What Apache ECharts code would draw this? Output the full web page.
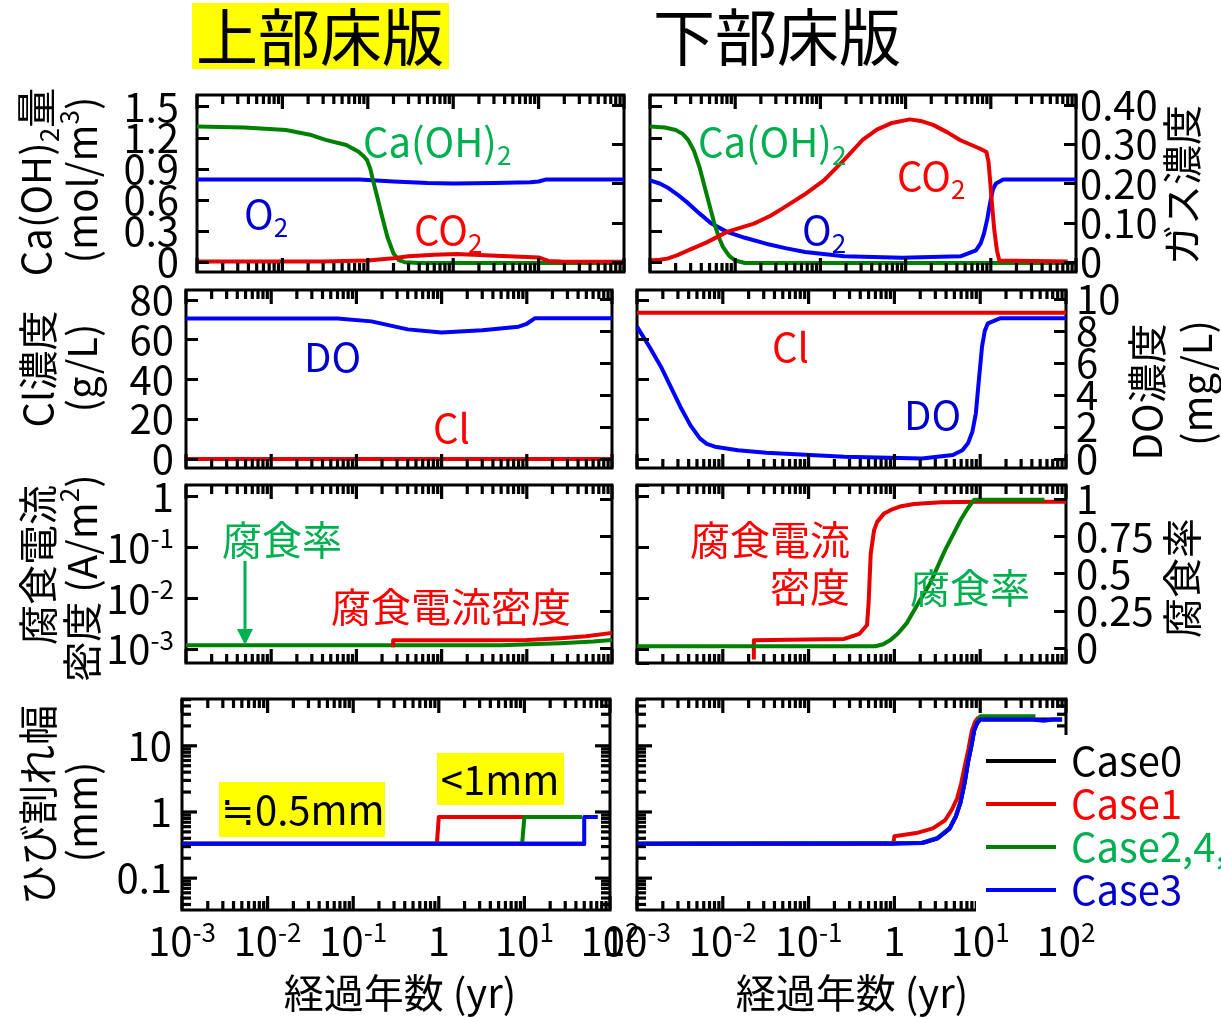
<!DOCTYPE html>
<html lang="ja">
<head>
<meta charset="utf-8">
<title>上部床版・下部床版の経時変化</title>
<script src="https://cdn.jsdelivr.net/npm/echarts@6.0.0/dist/echarts.min.js"></script>
<style>
html, body { margin: 0; padding: 0; background: #fff; }
#chart { width: 1221px; height: 1017px; }
</style>
</head>
<body>
<div id="chart"></div>
<script>
// ===== Data: [elapsed years, value] =====
// Row 1: Ca(OH)2 amount (mol/m3) and gas concentrations
const upperCaOH2 = [[0.001,1.31],[0.0036,1.30],[0.011,1.275],[0.021,1.23],[0.032,1.18],[0.056,1.13],[0.078,1.065],[0.09,1.02],[0.098,0.985],[0.107,0.9],[0.115,0.79],[0.13,0.62],[0.144,0.47],[0.17,0.24],[0.2,0.084],[0.23,0.02],[0.27,0.0],[0.4,-0.008],[10,-0.008],[100,-0.008]];
const upperO2 = [[0.001,0.21],[0.08,0.21],[0.2,0.205],[0.5,0.201],[1,0.2],[3,0.201],[8,0.203],[10,0.205],[12,0.21],[100,0.21]];
const upperCO2 = [[0.001,0.002],[0.03,0.002],[0.1,0.004],[0.2,0.01],[0.3,0.015],[0.6,0.019],[1.1,0.021],[2.7,0.017],[10,0.012],[13,0.003],[20,0.001],[100,0.001]];
const lowerCaOH2 = [[0.001,1.31],[0.0015,1.30],[0.002,1.275],[0.0024,1.24],[0.0028,1.18],[0.0033,1.07],[0.0038,0.92],[0.0047,0.63],[0.0057,0.37],[0.0065,0.23],[0.0072,0.145],[0.0085,0.06],[0.01,0.016],[0.013,-0.008],[100,-0.008]];
const lowerO2 = [[0.001,0.208],[0.0013,0.2],[0.0016,0.19],[0.0021,0.172],[0.0028,0.15],[0.0038,0.124],[0.0052,0.099],[0.008,0.077],[0.013,0.062],[0.023,0.047],[0.04,0.035],[0.066,0.026],[0.19,0.015],[0.91,0.011],[4.4,0.015],[6.7,0.03],[7.6,0.048],[8.3,0.072],[9.1,0.11],[9.8,0.15],[10.6,0.185],[11.5,0.2],[14,0.21],[100,0.21]];
const lowerCO2 = [[0.001,0.004],[0.0013,0.006],[0.0016,0.009],[0.0021,0.018],[0.0028,0.03],[0.0047,0.051],[0.008,0.077],[0.0166,0.098],[0.026,0.118],[0.038,0.14],[0.065,0.172],[0.11,0.208],[0.19,0.26],[0.31,0.31],[0.46,0.337],[0.67,0.353],[1.12,0.363],[1.5,0.359],[2.1,0.349],[3.1,0.33],[4.4,0.31],[7.4,0.289],[8.9,0.28],[9.4,0.255],[9.8,0.21],[10.4,0.14],[11,0.081],[11.8,0.03],[12.6,0.004],[80,0.002]];

// Row 2: Cl (g/L) and DO (mg/L)
const upperCl = [[0.001,0],[1,0],[100,0]];
const upperDO = [[0.001,8.78],[0.06,8.78],[0.15,8.6],[0.4,8.1],[1,7.9],[3,8.05],[8,8.27],[10,8.45],[12.5,8.8],[100,8.8]];
const lowerCl = [[0.001,73.6],[1,73.6],[100,73.6]];
const lowerDO = [[0.001,8.27],[0.0014,7.0],[0.0019,5.77],[0.0032,3.27],[0.0042,2.1],[0.0054,1.29],[0.0065,0.95],[0.0081,0.77],[0.015,0.55],[0.032,0.39],[0.26,0.14],[2.1,0.04],[4.8,0.25],[6.2,0.55],[7.2,0.98],[8.1,1.7],[8.9,2.86],[9.6,4.8],[10.5,7.02],[11.3,8.0],[12.3,8.48],[17,8.79],[100,8.79]];

// Row 3: corrosion current density (A/m2) and corrosion ratio
const upperCurrent = [[0.27,0.0011],[0.27,0.0015],[3,0.0015],[10,0.00152],[25,0.00165],[50,0.0018],[100,0.0021]];
const upperRate = [[0.001,0.02],[5,0.02],[24.5,0.034],[60,0.045],[100,0.055]];
const lowerCurrent = [[0.023,0.00063],[0.023,0.0015],[0.26,0.0016],[0.39,0.002],[0.48,0.003],[0.5,0.008],[0.53,0.077],[0.58,0.22],[0.63,0.32],[0.75,0.46],[0.91,0.55],[1.2,0.65],[1.7,0.72],[3.5,0.78],[10,0.8],[100,0.8]];
const lowerRate = [[0.001,0.013],[0.6,0.013],[0.74,0.027],[0.9,0.055],[1.1,0.099],[1.4,0.17],[1.7,0.255],[2.6,0.434],[3.9,0.658],[5.9,0.859],[7.2,0.94],[8.5,0.995],[56,0.995]];

// Row 4: crack width (mm) per case
const caseNames = ['Case0', 'Case1', 'Case2,4,5', 'Case3'];
const upperCrack = [
  [[0.001,0.33],[52,0.33]],
  [[0.001,0.33],[0.95,0.33],[1,0.84],[10,0.84]],
  [[0.001,0.33],[9.4,0.33],[10,0.84],[47,0.84]],
  [[0.001,0.33],[50,0.33],[50,0.84],[72,0.84]]
];
const lowerCrack = [
  [[0.001,0.33],[2.1,0.34],[3.2,0.4],[4.4,0.56],[5.2,0.85],[5.9,1.4],[6.6,2.8],[7.2,5.6],[7.9,10],[8.5,17],[9.2,22],[10,25],[90,25]],
  [[0.001,0.33],[0.97,0.33],[1,0.43],[1.8,0.48],[2.8,0.565],[3.9,0.75],[4.7,1.1],[5.4,1.62],[6.0,2.7],[6.6,4.9],[7.3,9],[8,17],[8.7,23],[9.3,26],[10,27]],
  [[0.001,0.33],[2.1,0.34],[3.2,0.41],[4.4,0.57],[5.2,0.87],[5.9,1.45],[6.6,2.9],[7.2,5.8],[7.9,10.5],[8.5,17.5],[9.2,23],[10,28],[44,28]],
  [[0.001,0.33],[1,0.33],[2.1,0.34],[3.2,0.4],[4.4,0.56],[5.2,0.85],[5.9,1.4],[6.6,2.8],[7.2,5.6],[7.9,10],[8.5,17],[9.2,22],[10,25],[40,25],[55,24],[70,25],[90,25]]
];

// Tick values
const xMajorTicks = [0.001, 0.01, 0.1, 1, 10, 100];
const minorSteps = [2, 3, 4, 5, 6, 7, 8, 9];
const caTicks = [0, 0.3, 0.6, 0.9, 1.2, 1.5];
const gasTicks = [0, 0.1, 0.2, 0.3, 0.4];
const clTicks = [0, 20, 40, 60, 80];
const doTicks = [0, 2, 4, 6, 8, 10];
const rateTicks = [0, 0.25, 0.5, 0.75, 1];
const crackMajorTicks = [0.1, 1, 10];
const crackMinorTicks = [0.04, 0.05, 0.06, 0.07, 0.08, 0.09]
  .concat(minorSteps.map(s => +(s * 0.1).toFixed(2)), minorSteps, [20, 30, 40, 50]);
const xMinorTicks = [];
xMajorTicks.slice(0, -1).forEach(d => minorSteps.forEach(s => xMinorTicks.push(+(s * d).toPrecision(4))));

// ===== Styling / layout =====
const FONT = '"Noto Sans CJK JP", "Noto Sans", sans-serif';
const COL = {
  lineGreen: '#008000', lineRed: '#e60000', lineBlue: '#0000ff', black: '#000000',
  textGreen: '#00b050', textRed: '#ff0000', textBlue: '#0000cc'
};
const caseLineColors = [COL.black, COL.lineRed, COL.lineGreen, COL.lineBlue];
const caseTextColors = ['#000000', COL.textRed, COL.textGreen, COL.textBlue];

const gridRects = [
  { left: 197, top: 95, width: 427, height: 177 },
  { left: 650, top: 95, width: 426, height: 177 },
  { left: 186, top: 290, width: 426, height: 178 },
  { left: 637, top: 290, width: 429, height: 178 },
  { left: 186, top: 485, width: 426, height: 178 },
  { left: 637, top: 485, width: 429, height: 178 },
  { left: 182, top: 699, width: 428, height: 211 },
  { left: 637, top: 699, width: 429, height: 211 }
];
const caRange = [-0.095, 1.613];
const gasRange = [-0.025, 0.425];
const clRange = [-4.5, 85];
const doRange = [-0.56, 10.56];
const currentRange = [5.37e-4, 1.70];
const rateRange = [-0.099, 1.094];
const crackRange = [0.033, 51];

const labelBase = { color: '#000', fontFamily: FONT, fontSize: 40 };
const powRich = {
  b: { fontSize: 40, fontFamily: FONT, color: '#000', lineHeight: 44 },
  s: { fontSize: 26, fontFamily: FONT, color: '#000', verticalAlign: 'top', lineHeight: 26 }
};
function powLabel(v) {
  const e = Math.round(Math.log10(v));
  return e === 0 ? '{b|1}' : '{b|10}{s|' + e + '}';
}
const fmtCa = v => (v === 0 ? '0' : v.toFixed(1));
const fmtGas = v => (v === 0 ? '0' : v.toFixed(2));
const fmtPlain = v => String(v);

// Linear axes: ticks from the axis; their closely packed labels are drawn by labelSeries below
function valueAxis(gridIndex, position, range, ticks) {
  return {
    type: 'value', gridIndex, position, min: range[0], max: range[1], z: 3,
    axisLine: { show: false }, splitLine: { show: false },
    axisTick: { show: true, inside: true, length: 12, customValues: ticks, lineStyle: { color: '#000', width: 3 } },
    axisLabel: { show: false }
  };
}
function logAxis(gridIndex, position, range, showLabel, fmt, tickShow, margin) {
  return {
    type: 'log', logBase: 10, gridIndex, position, min: range[0], max: range[1], splitNumber: 3, z: 3,
    axisLine: { show: false }, splitLine: { show: false }, minorTick: { show: false },
    axisTick: { show: tickShow, inside: true, length: 12, lineStyle: { color: '#000', width: 3 } },
    axisLabel: Object.assign({ show: showLabel, showMinLabel: false, showMaxLabel: false, formatter: fmt, rich: powRich, margin: margin || 8, hideOverlap: false }, labelBase)
  };
}

const yAxes = [
  valueAxis(0, 'left', caRange, caTicks),
  valueAxis(0, 'right', gasRange, gasTicks),
  valueAxis(1, 'left', caRange, caTicks),
  valueAxis(1, 'right', gasRange, gasTicks),
  valueAxis(2, 'left', clRange, clTicks),
  valueAxis(2, 'right', doRange, doTicks),
  valueAxis(3, 'left', clRange, clTicks),
  valueAxis(3, 'right', doRange, doTicks),
  logAxis(4, 'left', currentRange, true, powLabel, true, 12),
  valueAxis(4, 'right', rateRange, rateTicks),
  logAxis(5, 'left', currentRange, false, powLabel, true),
  valueAxis(5, 'right', rateRange, rateTicks),
  logAxis(6, 'left', crackRange, true, fmtPlain, false, 10),
  { type: 'value', gridIndex: 6, position: 'right', show: false },
  logAxis(7, 'left', crackRange, false, fmtPlain, false),
  { type: 'value', gridIndex: 7, position: 'right', show: false }
];

const xAxes = gridRects.map((g, i) => ({
  type: 'log', logBase: 10, gridIndex: i, min: 0.001, max: 100, splitNumber: 5,
  axisLine: { show: false }, axisTick: { show: false }, splitLine: { show: false }, minorTick: { show: false },
  axisLabel: Object.assign({}, labelBase, { show: i >= 6, formatter: powLabel, rich: powRich, margin: 9, hideOverlap: false, showMinLabel: true, showMaxLabel: true })
}));

function line(name, data, grid, rightAxis, color) {
  return {
    type: 'line', name, data, xAxisIndex: grid, yAxisIndex: grid * 2 + (rightAxis ? 1 : 0),
    showSymbol: false, symbol: 'none', color, lineStyle: { color, width: 4, join: 'round' },
    animation: false, z: 2, silent: true
  };
}

// Log-axis tick marks (decades long, 2..9 short) on the top and bottom frame edges
function renderXTick(params, api) {
  const cs = params.coordSys;
  const px = api.coord([api.value(0), api.value(1)])[0];
  const len = api.value(2) ? 14 : 9;
  const st = { stroke: '#000', lineWidth: 3.2 };
  return { type: 'group', children: [
    { type: 'line', shape: { x1: px, y1: cs.y, x2: px, y2: cs.y + len }, style: st },
    { type: 'line', shape: { x1: px, y1: cs.y + cs.height, x2: px, y2: cs.y + cs.height - len }, style: st }
  ] };
}
function xTickSeries(grid, yRef) {
  const data = xMajorTicks.map(v => [v, yRef, 1]).concat(xMinorTicks.map(v => [v, yRef, 0]));
  return { type: 'custom', name: 'xticks' + grid, xAxisIndex: grid, yAxisIndex: grid * 2, z: 3, silent: true, animation: false, data, renderItem: renderXTick };
}
// Crack-width log ticks on the left and right frame edges
function renderYTick(params, api) {
  const cs = params.coordSys;
  const py = api.coord([api.value(0), api.value(1)])[1];
  const len = api.value(2) ? 15 : 9;
  const st = { stroke: '#000', lineWidth: 3.2 };
  return { type: 'group', children: [
    { type: 'line', shape: { x1: cs.x, y1: py, x2: cs.x + len, y2: py }, style: st },
    { type: 'line', shape: { x1: cs.x + cs.width, y1: py, x2: cs.x + cs.width - len, y2: py }, style: st }
  ] };
}
function yTickSeries(grid) {
  const data = crackMajorTicks.map(v => [1, v, 1]).concat(crackMinorTicks.map(v => [1, v, 0]));
  return { type: 'custom', name: 'yticks' + grid, xAxisIndex: grid, yAxisIndex: grid * 2, z: 3, silent: true, animation: false, data, renderItem: renderYTick };
}
// Tick labels of a linear y axis, placed beside the frame at each tick value
function labelSeries(grid, rightAxis, ticks, fmt, margin) {
  return {
    type: 'custom', name: 'ylabels' + grid + (rightAxis ? 'r' : 'l'),
    xAxisIndex: grid, yAxisIndex: grid * 2 + (rightAxis ? 1 : 0), z: 3, silent: true, animation: false,
    data: ticks.map(v => [1, v]),
    renderItem(params, api) {
      const cs = params.coordSys;
      const py = api.coord([api.value(0), api.value(1)])[1];
      const align = rightAxis ? 'left' : 'right';
      return {
        type: 'text', x: rightAxis ? cs.x + cs.width + margin : cs.x - margin, y: py,
        style: {
          text: fmt(api.value(1)), fill: '#000', fontSize: 40, fontFamily: FONT,
          align, verticalAlign: 'middle', textAlign: align, textVerticalAlign: 'middle'
        }
      };
    }
  };
}

const series = [
  line('上部 O2', upperO2, 0, true, COL.lineBlue),
  line('上部 Ca(OH)2', upperCaOH2, 0, false, COL.lineGreen),
  line('上部 CO2', upperCO2, 0, true, COL.lineRed),
  line('下部 O2', lowerO2, 1, true, COL.lineBlue),
  line('下部 Ca(OH)2', lowerCaOH2, 1, false, COL.lineGreen),
  line('下部 CO2', lowerCO2, 1, true, COL.lineRed),
  line('上部 DO', upperDO, 2, true, COL.lineBlue),
  line('上部 Cl', upperCl, 2, false, COL.lineRed),
  line('下部 DO', lowerDO, 3, true, COL.lineBlue),
  line('下部 Cl', lowerCl, 3, false, COL.lineRed),
  line('上部 腐食率', upperRate, 4, true, COL.lineGreen),
  line('上部 腐食電流密度', upperCurrent, 4, false, COL.lineRed),
  line('下部 腐食電流密度', lowerCurrent, 5, false, COL.lineRed),
  line('下部 腐食率', lowerRate, 5, true, COL.lineGreen)
];
caseNames.forEach((n, i) => series.push(line(n, upperCrack[i], 6, false, caseLineColors[i])));
caseNames.forEach((n, i) => series.push(line(n, lowerCrack[i], 7, false, caseLineColors[i])));
series.push(xTickSeries(0, 0.5), xTickSeries(1, 0.5), xTickSeries(2, 40), xTickSeries(3, 40),
  xTickSeries(4, 0.01), xTickSeries(5, 0.01), xTickSeries(6, 1), xTickSeries(7, 1),
  yTickSeries(6), yTickSeries(7),
  labelSeries(0, false, caTicks, fmtCa, 18),
  labelSeries(1, true, gasTicks, fmtGas, 4),
  labelSeries(2, false, clTicks, fmtPlain, 12),
  labelSeries(3, true, doTicks, fmtPlain, 10),
  labelSeries(5, true, rateTicks, fmtPlain, 10));

// ===== Text annotations =====
function richFor(color) {
  return {
    m: { fill: color, fontSize: 40, fontFamily: FONT, lineHeight: 52 },
    sub: { fill: color, fontSize: 26, fontFamily: FONT, lineHeight: 26, verticalAlign: 'bottom' },
    sup: { fill: color, fontSize: 26, fontFamily: FONT, lineHeight: 26, verticalAlign: 'top' }
  };
}
function label(x, y, text, color, opt) {
  opt = opt || {};
  const align = opt.align || 'left';
  const style = {
    text, fill: color, fontSize: opt.size || 40, fontFamily: FONT,
    align, verticalAlign: 'middle', textAlign: align, textVerticalAlign: 'middle'
  };
  if (opt.rich) style.rich = richFor(color);
  return { type: 'text', x, y, rotation: opt.rotate ? Math.PI / 2 : 0, z: 20, silent: true, style };
}
const V = { rotate: true, align: 'center' };
const VR = { rotate: true, align: 'center', rich: true };
const R = { rich: true };

const graphics = [
  { type: 'rect', shape: { x: 192, y: 3, width: 257, height: 66 }, style: { fill: '#ffff00' }, z: 10, silent: true },
  label(320, 37, '上部床版', '#000', { size: 62, align: 'center' }),
  label(777, 37, '下部床版', '#000', { size: 62, align: 'center' }),

  // axis titles
  label(36, 182, '{m|Ca(OH)}{sub|2}{m|量}', '#000', VR),
  label(82, 180, '{m|(mol/m}{sup|3}{m|)}', '#000', VR),
  label(1182, 185, 'ガス濃度', '#000', V),
  label(38, 369, 'Cl濃度', '#000', V),
  label(82, 368, '(g/L)', '#000', V),
  label(1147, 392, 'DO濃度', '#000', V),
  label(1197, 383, '(mg/L)', '#000', V),
  label(38, 565, '腐食電流', '#000', V),
  label(82, 578, '{m|密度 (A/m}{sup|2}{m|)}', '#000', VR),
  label(1182, 578, '腐食率', '#000', V),
  label(38, 805, 'ひび割れ幅', '#000', V),
  label(82, 812, '(mm)', '#000', V),
  label(400, 993, '経過年数 (yr)', '#000', { align: 'center' }),
  label(852, 993, '経過年数 (yr)', '#000', { align: 'center' }),

  // curve labels
  label(363, 142, '{m|Ca(OH)}{sub|2}', COL.textGreen, R),
  label(244, 214, '{m|O}{sub|2}', COL.textBlue, R),
  label(414, 230, '{m|CO}{sub|2}', COL.textRed, R),
  label(698, 142, '{m|Ca(OH)}{sub|2}', COL.textGreen, R),
  label(897, 176, '{m|CO}{sub|2}', COL.textRed, R),
  label(802, 230, '{m|O}{sub|2}', COL.textBlue, R),
  label(304, 357, 'DO', COL.textBlue),
  label(433, 428, 'Cl', COL.textRed),
  label(772, 347, 'Cl', COL.textRed),
  label(904, 415, 'DO', COL.textBlue),
  label(222, 540, '腐食率', COL.textGreen),
  { type: 'line', shape: { x1: 245, y1: 561, x2: 245, y2: 632 }, style: { stroke: COL.textGreen, lineWidth: 3 }, z: 20, silent: true },
  { type: 'polygon', shape: { points: [[237, 629], [253, 629], [245, 645]] }, style: { fill: COL.textGreen }, z: 20, silent: true },
  label(331, 607, '腐食電流密度', COL.textRed),
  label(850, 540, '腐食電流', COL.textRed, { align: 'right' }),
  label(850, 587, '密度', COL.textRed, { align: 'right' }),
  label(910, 588, '腐食率', COL.textGreen),

  // highlighted notes
  { type: 'rect', shape: { x: 219, y: 782, width: 166, height: 55 }, style: { fill: '#ffff00' }, z: 18, silent: true },
  label(221, 810, '≒0.5mm', '#000'),
  { type: 'rect', shape: { x: 437, y: 753, width: 127, height: 52 }, style: { fill: '#ffff00' }, z: 18, silent: true },
  label(500, 780, '<1mm', '#000', { align: 'center' })
];

const option = {
  animation: false,
  backgroundColor: '#fff',
  grid: gridRects.map(r => Object.assign({
    show: true, borderColor: '#000', borderWidth: 3, backgroundColor: 'transparent',
    containLabel: false, outerBoundsMode: 'none'
  }, r)),
  xAxis: xAxes,
  yAxis: yAxes,
  legend: {
    orient: 'vertical', left: 976, top: 735, z: 10, selectedMode: false,
    backgroundColor: '#fff', padding: [6, 10, 4, 10], itemGap: 3,
    itemWidth: 70, itemHeight: 4, icon: 'rect',
    textStyle: { fontFamily: FONT, fontSize: 40, padding: [0, 0, 0, 10] },
    data: caseNames.map((n, i) => ({ name: n, textStyle: { color: caseTextColors[i] } }))
  },
  graphic: { elements: graphics },
  series
};

const chart = echarts.init(document.getElementById('chart'), null, { renderer: 'canvas' });
chart.setOption(option);
</script>
</body>
</html>
